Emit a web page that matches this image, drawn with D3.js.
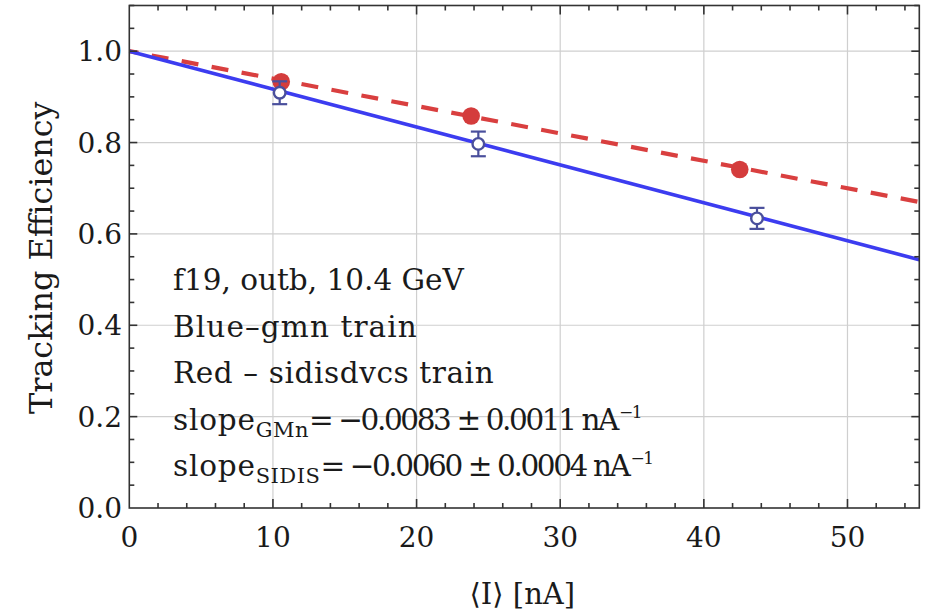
<!DOCTYPE html>
<html>
<head>
<meta charset="utf-8">
<script src="https://cdn.jsdelivr.net/npm/d3@7"></script>
<style>
  html, body { margin: 0; padding: 0; background: #fff; }
  svg { display: block; }
  text { font-family: "DejaVu Serif", "Liberation Serif", serif; fill: #1a1a1a; }
</style>
</head>
<body>
<svg id="chart" width="925" height="612"></svg>
<script>
// ---- data ----
const blueX = [10.47, 24.3, 43.7];
const blueY = [0.909, 0.797, 0.634];
const blueErr = [0.025, 0.027, 0.023];
const redX = [10.58, 23.8, 42.5];
const redY = [0.933, 0.858, 0.741];
const blueFit = { intercept: 1.0, slope: -0.0083 };
const redFit = { intercept: 1.0, slope: -0.0060 };
const xTicks = [0, 10, 20, 30, 40, 50];
const yTicks = [0.0, 0.2, 0.4, 0.6, 0.8, 1.0];
const textLines = ["f19, outb, 10.4 GeV", "Blue\u2013gmn train", "Red \u2013 sidisdvcs train"];
const slopeLines = [
  { sub: "GMn", value: "= \u22120.0083 \u00b1 0.0011 nA" },
  { sub: "SIDIS", value: "= \u22120.0060 \u00b1 0.0004 nA" }
];

// ---- layout ----
const L = 129.3, R = 919.3, T = 5.5, B = 508;
const svg = d3.select("#chart");
const x = d3.scaleLinear().domain([0, 55]).range([L, R]);
const y = d3.scaleLinear().domain([0, 1.1]).range([B, T]);

// grid
const g = svg.append("g");
g.selectAll(".gx").data(xTicks.filter(v => v > 0)).join("line")
  .attr("x1", d => x(d)).attr("x2", d => x(d)).attr("y1", T).attr("y2", B)
  .attr("stroke", "#cfcfcf").attr("stroke-width", 1.2);
g.selectAll(".gy").data(yTicks.filter(v => v > 0)).join("line")
  .attr("y1", d => y(d)).attr("y2", d => y(d)).attr("x1", L).attr("x2", R)
  .attr("stroke", "#cfcfcf").attr("stroke-width", 1.2);

// fit lines
const xs = [0, 55];
const redLine = d3.line().x(d => x(d)).y(d => y(redFit.intercept + redFit.slope * d));
const blueLine = d3.line().x(d => x(d)).y(d => y(blueFit.intercept + blueFit.slope * d));

svg.append("path").attr("d", redLine(xs)).attr("fill", "none")
  .attr("stroke", "#d93f3f").attr("stroke-width", 4.2)
  .attr("stroke-dasharray", "17 13.5").attr("stroke-dashoffset", 7.7);

svg.selectAll(".red").data(redX).join("circle")
  .attr("cx", d => x(d)).attr("cy", (d, i) => y(redY[i])).attr("r", 8.8)
  .attr("fill", "#d43c3c");

svg.append("path").attr("d", blueLine(xs)).attr("fill", "none")
  .attr("stroke", "#3c3cf0").attr("stroke-width", 3.6);

// error bars
const eb = svg.append("g").attr("stroke", "#4a4f9c").attr("stroke-width", 2.2);
blueX.forEach((bx, i) => {
  const cx = x(bx), y1 = y(blueY[i] + blueErr[i]), y2 = y(blueY[i] - blueErr[i]);
  eb.append("line").attr("x1", cx).attr("x2", cx).attr("y1", y1).attr("y2", y2);
  eb.append("line").attr("x1", cx - 7.5).attr("x2", cx + 7.5).attr("y1", y1).attr("y2", y1);
  eb.append("line").attr("x1", cx - 7.5).attr("x2", cx + 7.5).attr("y1", y2).attr("y2", y2);
});
svg.selectAll(".blue").data(blueX).join("circle")
  .attr("cx", d => x(d)).attr("cy", (d, i) => y(blueY[i])).attr("r", 5.8)
  .attr("fill", "#fff").attr("stroke", "#4a4f9c").attr("stroke-width", 2.4);

// frame
svg.append("rect").attr("x", L).attr("y", T).attr("width", R - L).attr("height", B - T)
  .attr("fill", "none").attr("stroke", "#333").attr("stroke-width", 1.6);

// ticks (inward, all four sides)
const xMinor = d3.range(0, 56, 2).filter(v => v % 10 !== 0);
const yMinor = d3.range(0, 1.101, 0.05).filter(v => Math.abs(v * 5 - Math.round(v * 5)) > 1e-6);
const tk = svg.append("g").attr("stroke", "#333").attr("stroke-width", 1.6);
function xt(vals, len) {
  vals.forEach(v => {
    tk.append("line").attr("x1", x(v)).attr("x2", x(v)).attr("y1", B).attr("y2", B - len);
    tk.append("line").attr("x1", x(v)).attr("x2", x(v)).attr("y1", T).attr("y2", T + len);
  });
}
function yt(vals, len) {
  vals.forEach(v => {
    tk.append("line").attr("y1", y(v)).attr("y2", y(v)).attr("x1", L).attr("x2", L + len);
    tk.append("line").attr("y1", y(v)).attr("y2", y(v)).attr("x1", R).attr("x2", R - len);
  });
}
xt(xTicks.filter(v => v > 0), 9);
xt(xMinor, 5);
yt(yTicks.filter(v => v > 0), 8);
yt(yMinor, 5);

// tick labels
svg.selectAll(".xl").data(xTicks).join("text")
  .attr("x", d => x(d)).attr("y", 547).attr("text-anchor", "middle")
  .attr("font-size", 28).text(d => d);
svg.selectAll(".yl").data(yTicks).join("text")
  .attr("x", 122).attr("y", d => y(d)).attr("dy", "0.36em").attr("text-anchor", "end")
  .attr("font-size", 28).text(d => d.toFixed(1));

// axis titles
svg.append("text").attr("transform", `translate(52,${(T + B) / 2 + 1}) rotate(-90)`)
  .attr("text-anchor", "middle").attr("font-size", 31.8).text("Tracking Efficiency");
svg.append("text").attr("x", (L + R) / 2 - 2).attr("y", 604).attr("text-anchor", "middle")
  .attr("font-size", 29).text("\u27e8I\u27e9 [nA]");

// annotation text
const base = [290, 336.5, 383, 429.5, 476];
const spacing = [0, 1.1, 0.6];
textLines.forEach((t, i) => {
  svg.append("text").attr("x", 173).attr("y", base[i]).attr("font-size", 29.5)
    .attr("letter-spacing", spacing[i]).text(t);
});
slopeLines.forEach((s, i) => {
  const t = svg.append("text").attr("x", 173).attr("y", base[3 + i]).attr("font-size", 29.5);
  t.append("tspan").attr("letter-spacing", 0.8).text("slope");
  t.append("tspan").attr("font-size", 21).attr("dy", 7).attr("letter-spacing", 0.5).text(s.sub);
  t.append("tspan").attr("dy", -7).attr("letter-spacing", -2.4).text(s.value);
  t.append("tspan").attr("font-size", 17).attr("dy", -12).attr("dx", 2).attr("letter-spacing", -1.5).text("\u22121");
});
</script>
</body>
</html>
